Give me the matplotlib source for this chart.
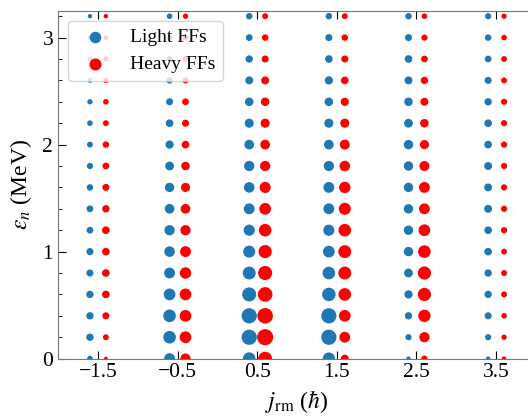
import numpy as np
import matplotlib
matplotlib.use("Agg")
import matplotlib.pyplot as plt

plt.rcParams['font.family'] = ['Liberation Serif', 'DejaVu Serif']
plt.rcParams['mathtext.fontset'] = 'stix'
plt.rcParams['font.size'] = 17

# neutron energy grid (MeV) and angular momentum bins
energies = [0.0, 0.2, 0.4, 0.6, 0.8, 1.0, 1.2, 1.4, 1.6, 1.8, 2.0, 2.2, 2.4, 2.6, 2.8, 3.0, 3.2]
j_values = [-1.5, -0.5, 0.5, 1.5, 2.5, 3.5]

# relative amplitudes (rows follow energies)
light_amp = {
    -1.5: [12, 18, 18, 18, 17, 17, 16, 16, 15, 14, 13, 12, 11, 10, 10, 9, 8],
    -0.5: [30, 36, 36, 33, 30, 29, 28, 26, 25, 23, 21, 19, 17, 15, 14, 13, 12],
    0.5:  [36, 45, 45, 41, 37, 34, 31, 30, 29, 28, 26, 24, 22, 20, 18, 16, 15],
    1.5:  [35, 45, 45, 39, 36, 33, 31, 30, 30, 28, 26, 24, 22, 21, 19, 17, 15],
    2.5:  [8, 14, 18, 21, 23, 25, 25, 25, 25, 25, 25, 23, 22, 20, 19, 17, 15],
    3.5:  [8, 14, 17, 18, 18, 19, 19, 20, 20, 20, 19, 19, 18, 17, 16, 15, 14],
}
heavy_amp = {
    -1.5: [6, 13, 17, 19, 19, 19, 19, 18, 17, 16, 15, 13, 12, 11, 10, 9, 8],
    -0.5: [28, 33, 33, 33, 32, 30, 28, 26, 24, 22, 19, 17, 16, 14, 13, 12, 11],
    0.5:  [40, 48, 46, 43, 41, 38, 36, 33, 31, 28, 26, 24, 22, 20, 17, 15, 13],
    1.5:  [20, 30, 33, 36, 37, 37, 36, 34, 32, 29, 27, 24, 21, 19, 17, 15, 13],
    2.5:  [14, 28, 35, 38, 38, 36, 33, 30, 30, 27, 24, 22, 20, 18, 16, 14, 12],
    3.5:  [8, 11, 12, 13, 13, 13, 14, 14, 14, 14, 14, 14, 14, 13, 13, 12, 11],
}

scale = 0.21  # amplitude -> marker diameter in points

fig = plt.figure(figsize=(5.28, 4.17), dpi=100)
ax = fig.add_axes([0.110, 0.140, 0.905, 0.834])

xl, yl, sl = [], [], []
xh, yh, sh = [], [], []
for j in j_values:
    for e, a in zip(energies, light_amp[j]):
        xl.append(j - 0.1)
        yl.append(e)
        sl.append((a * scale) ** 2)
    for e, a in zip(energies, heavy_amp[j]):
        xh.append(j + 0.1)
        yh.append(e)
        sh.append((a * scale) ** 2)

ax.scatter(xl, yl, s=sl, color='#1f77b4', linewidths=1.5, label='Light FFs')
ax.scatter(xh, yh, s=sh, color='red', linewidths=1.5, label='Heavy FFs')

ax.set_xlim(-2, 4)
ax.set_ylim(0, 3.25)
ax.set_xticks(j_values)
ax.set_yticks([0, 1, 2, 3])
ax.set_yticks(np.arange(0, 3.3, 0.2), minor=True)
ax.tick_params(which='both', direction='in', top=True, right=True, color='black',
               labelsize=15.5)
ax.tick_params(which='major', length=6)
ax.tick_params(which='minor', length=3)
ax.tick_params(axis='x', which='minor', bottom=False, top=False)
for sp in ax.spines.values():
    sp.set_color('#777777')

ax.set_xlabel(r'$j_{\rm rm}$ ($\hbar$)', labelpad=4)
ax.set_ylabel(r'$\varepsilon_n$ (MeV)', labelpad=6)
ax.legend(loc='upper left', fontsize=14)

fig.savefig('out.png', dpi=100)
